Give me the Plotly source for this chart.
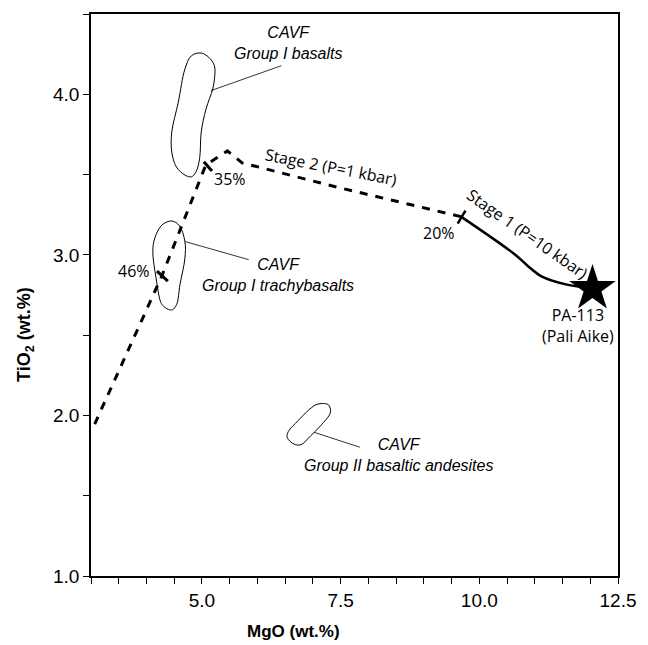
import plotly.graph_objects as go

# ---- data (MgO wt.%, TiO2 wt.%) ----
stage1_mgo = [9.669, 10.647, 10.884, 11.12, 11.562, 12.04]
stage1_tio2 = [3.238, 3.001, 2.928, 2.866, 2.816, 2.792]

stage2_mgo = [9.669, 7.405, 5.724, 5.459, 5.070, 4.274, 3.053]
stage2_tio2 = [3.238, 3.424, 3.573, 3.647, 3.560, 2.866, 1.936]

pa113_mgo = [12.04]
pa113_tio2 = [2.79]

# percentage tick marks (segment ends)
tick20_mgo = [9.61, 9.75]
tick20_tio2 = [3.195, 3.275]
tick35_mgo = [5.034, 5.181]
tick35_tio2 = [3.580, 3.522]
tick46_mgo = [4.19, 4.385]
tick46_tio2 = [2.899, 2.837]

# field outlines
g1_basalt_mgo = [4.987, 5.123, 5.224, 5.229, 5.194, 5.075, 4.987, 4.958, 4.893, 4.810,
                 4.693, 4.539, 4.456, 4.456, 4.574, 4.693, 4.810, 4.987]
g1_basalt_tio2 = [4.257, 4.230, 4.179, 4.106, 4.033, 3.910, 3.765, 3.600, 3.517, 3.486,
                  3.497, 3.548, 3.641, 3.765, 3.951, 4.157, 4.240, 4.257]

g1_trachy_mgo = [4.456, 4.592, 4.693, 4.693, 4.604, 4.544, 4.468, 4.397, 4.291, 4.251,
                 4.173, 4.114, 4.150, 4.279, 4.456]
g1_trachy_tio2 = [3.211, 3.182, 3.083, 2.980, 2.815, 2.691, 2.658, 2.660, 2.686, 2.711,
                  2.856, 3.021, 3.104, 3.186, 3.211]

g2_andes_mgo = [7.157, 7.281, 7.316, 7.139, 6.962, 6.786, 6.662, 6.538, 6.556, 6.733,
                6.909, 7.051, 7.157]
g2_andes_tio2 = [2.074, 2.066, 2.019, 1.936, 1.874, 1.818, 1.821, 1.862, 1.899, 1.967,
                 2.029, 2.066, 2.074]

# leader lines
lead_basalt_mgo = [5.163, 6.432]
lead_basalt_tio2 = [4.023, 4.178]
lead_trachy_mgo = [4.693, 5.843]
lead_trachy_tio2 = [3.083, 2.970]
lead_andes_mgo = [7.021, 7.847]
lead_andes_tio2 = [1.895, 1.802]

x_major = [5.0, 7.5, 10.0, 12.5]
x_major_text = ["5.0", "7.5", "10.0", "12.5"]
y_major = [1.0, 2.0, 3.0, 4.0]
y_major_text = ["1.0", "2.0", "3.0", "4.0"]

fig = go.Figure()

def add_line(x, y, width=1, dash="solid", shape="linear"):
    fig.add_trace(go.Scatter(x=x, y=y, mode="lines",
                             line=dict(color="black", width=width, dash=dash, shape=shape),
                             hoverinfo="skip", showlegend=False))

add_line(g1_basalt_mgo, g1_basalt_tio2, 1, shape="spline")
add_line(g1_trachy_mgo, g1_trachy_tio2, 1, shape="spline")
add_line(g2_andes_mgo, g2_andes_tio2, 1, shape="spline")
add_line(lead_basalt_mgo, lead_basalt_tio2, 0.8)
add_line(lead_trachy_mgo, lead_trachy_tio2, 0.8)
add_line(lead_andes_mgo, lead_andes_tio2, 0.8)
add_line(stage2_mgo, stage2_tio2, 3, dash="8px,8px")
add_line(stage1_mgo, stage1_tio2, 2.5, shape="spline")
add_line(tick20_mgo, tick20_tio2, 2.5)
add_line(tick35_mgo, tick35_tio2, 3)
add_line(tick46_mgo, tick46_tio2, 3)

fig.add_trace(go.Scatter(x=pa113_mgo, y=pa113_tio2, mode="markers",
                         marker=dict(symbol="star", size=35, color="black"),
                         hoverinfo="skip", showlegend=False))

lab_font = dict(family="Liberation Sans, Arial", size=16, color="black")
sans_font = dict(family="Open Sans", size=16, color="black")

def ann(x, y, text, font, angle=0, xanchor="center"):
    fig.add_annotation(x=x, y=y, text=text, showarrow=False, font=font,
                       textangle=angle, xanchor=xanchor, yanchor="middle", align="center")

ann(6.565, 4.317, "<i>CAVF<br>Group I basalts</i>", lab_font)
ann(6.362, 2.872, "<i>CAVF<br>Group I trachybasalts</i>", lab_font)
ann(8.535, 1.753, "<i>CAVF<br>Group II basaltic andesites</i>", lab_font)

ann(5.512, 3.472, "35%", sans_font)
ann(3.780, 2.897, "46%", sans_font)
ann(9.280, 3.139, "20%", sans_font)
ann(11.774, 2.562, "PA-113<br>(Pali Aike)", sans_font)
ann(10.870, 3.130, "Stage 1 (P=10 kbar)", sans_font, angle=35)
ann(7.330, 3.545, "Stage 2 (P=1 kbar)", sans_font, angle=11)

title_font = dict(family="Liberation Sans, Arial", size=17, color="black")
fig.add_annotation(xref="paper", yref="paper", x=0.385, y=-0.099,
                   text="<b>MgO (wt.%)</b>", showarrow=False, font=title_font,
                   xanchor="center", yanchor="middle")
fig.add_annotation(xref="paper", yref="paper", x=-0.124, y=0.43,
                   text="<b>TiO<sub>2</sub> (wt.%)</b>", showarrow=False,
                   font=dict(family="Liberation Sans, Arial", size=18, color="black"),
                   textangle=-90, xanchor="center", yanchor="middle")

tick_font = dict(family="Liberation Sans, Arial", size=19, color="black")
fig.update_xaxes(range=[3.0, 12.5], tickmode="array", tickvals=x_major, ticktext=x_major_text,
                 ticks="outside", ticklen=6, tickwidth=1.2, tickcolor="black",
                 minor=dict(tick0=3.0, dtick=0.5, ticks="outside", ticklen=6,
                            tickwidth=1.2, tickcolor="black", showgrid=False),
                 showline=True, linecolor="black", linewidth=1.5, mirror=True,
                 showgrid=False, zeroline=False, tickfont=tick_font)
fig.update_yaxes(range=[1.0, 4.5], tickmode="array", tickvals=y_major, ticktext=y_major_text,
                 ticks="outside", ticklen=6, tickwidth=1.2, tickcolor="black",
                 minor=dict(tick0=1.0, dtick=0.5, ticks="outside", ticklen=6,
                            tickwidth=1.2, tickcolor="black", showgrid=False),
                 showline=True, linecolor="black", linewidth=1.5, mirror=True,
                 showgrid=False, zeroline=False, tickfont=tick_font)

fig.update_layout(width=648, height=645, margin=dict(l=91, r=20, t=12, b=69),
                  plot_bgcolor="white", paper_bgcolor="white", showlegend=False)

fig.write_html("out.html")
